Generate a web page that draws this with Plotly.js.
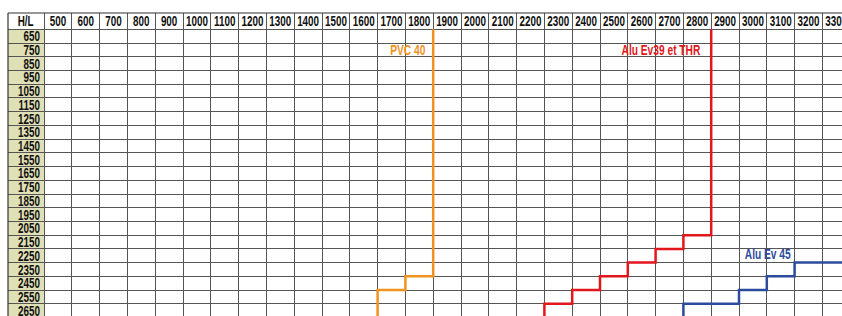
<!DOCTYPE html>
<html>
<head>
<meta charset="utf-8">
<script src="https://cdn.plot.ly/plotly-3.0.1.min.js"></script>
<style>
html,body{margin:0;padding:0;background:#fff;overflow:hidden;}
#chart{width:842px;height:316px;}
</style>
</head>
<body>
<div id="chart"></div>
<script>
// Column widths L (header) and row heights H (left column)
const widths = [500,600,700,800,900,1000,1100,1200,1300,1400,1500,1600,1700,1800,1900,2000,2100,2200,2300,2400,2500,2600,2700,2800,2900,3000,3100,3200,3300];
const heights = [650,750,850,950,1050,1150,1250,1350,1450,1550,1650,1750,1850,1950,2050,2150,2250,2350,2450,2550,2650];

// Step limits (width limit L, height H where each step starts)
const pvcL = [1850,1750,1650,1650];
const pvcH = [600,2400,2500,2700];
const aluEv39L = [2850,2750,2650,2550,2450,2350,2250,2250];
const aluEv39H = [600,2100,2200,2300,2400,2500,2600,2700];
const aluEv45L = [3400,3150,3050,2950,2750];
const aluEv45H = [2300,2400,2500,2600,2700];

const seriesNames = ['PVC 40','Alu Ev39 et THR','Alu Ev 45'];
const seriesColors = ['#f0921f','#e2161d','#2c4b9c'];

const FONT = '"Liberation Sans", Arial, sans-serif';
const SQUEEZE = 0.68;

const xRange = [320.5, 3320.5];
const yRange = [2689, 481];

const xBounds = widths.map(v => v - 50).concat([widths[widths.length-1] + 50]);
const yBounds = heights.map(v => v - 50).concat([heights[heights.length-1] + 50]);

const traces = [
  {x: pvcL, y: pvcH, mode: 'lines', line: {color: seriesColors[0], width: 2.5, shape: 'vh'}, name: seriesNames[0], hoverinfo: 'skip'},
  {x: aluEv39L, y: aluEv39H, mode: 'lines', line: {color: seriesColors[1], width: 2.5, shape: 'vh'}, name: seriesNames[1], hoverinfo: 'skip'},
  {x: aluEv45L, y: aluEv45H, mode: 'lines', line: {color: seriesColors[2], width: 2.5, shape: 'hv'}, name: seriesNames[2], hoverinfo: 'skip'}
];

const xPos = (yRange[0] - yBounds[0]) / (yRange[0] - yRange[1]);
const yPos = (xBounds[0] - xRange[0]) / (xRange[1] - xRange[0]);

const tickFont = {family: FONT, size: 14.5, color: '#111', weight: 'bold'};

const layout = {
  width: 842, height: 316,
  margin: {l: 8, r: 0, t: 13, b: 0, pad: 0},
  paper_bgcolor: '#ffffff',
  plot_bgcolor: '#ffffff',
  showlegend: false,
  xaxis: {
    range: xRange, side: 'top', anchor: 'free', position: xPos,
    tickmode: 'array', tickvals: widths, ticktext: widths.map(String),
    tickangle: 0, ticks: '', showgrid: false, zeroline: false, showline: false,
    automargin: false, fixedrange: true, ticklabeloverflow: 'allow',
    tickfont: tickFont,
    minor: {tickmode: 'array', tickvals: xBounds, showgrid: true, gridcolor: '#555', gridwidth: 1, ticks: ''}
  },
  yaxis: {
    range: yRange, anchor: 'free', position: yPos,
    tickmode: 'array', tickvals: heights, ticktext: heights.map(String),
    ticks: '', showgrid: false, zeroline: false, showline: false,
    automargin: false, fixedrange: true, ticklabelstandoff: 4, ticklabeloverflow: 'allow',
    tickfont: tickFont,
    minor: {tickmode: 'array', tickvals: yBounds, showgrid: true, gridcolor: '#555', gridwidth: 1, ticks: ''}
  },
  shapes: [
    {type: 'rect', xref: 'x', yref: 'y', x0: xRange[0], x1: xBounds[0], y0: yBounds[0], y1: yRange[0], fillcolor: '#e0e0b6', line: {width: 0}, layer: 'below'},
    {type: 'line', xref: 'paper', yref: 'paper', x0: 0, x1: 1, y0: 1, y1: 1, line: {color: '#333', width: 1.2}},
    {type: 'line', xref: 'paper', yref: 'paper', x0: 0, x1: 0, y0: 0, y1: 1, line: {color: '#333', width: 1.2}}
  ],
  annotations: [
    {text: 'H/L', xref: 'x', yref: 'y', x: (xRange[0] + xBounds[0]) / 2, y: (yRange[1] + yBounds[0]) / 2, showarrow: false, font: tickFont},
    {text: seriesNames[0], xref: 'x', yref: 'y', x: 1761, y: 745, showarrow: false, font: {family: FONT, size: 15, color: seriesColors[0], weight: 'bold'}},
    {text: seriesNames[1], xref: 'x', yref: 'y', x: 2669, y: 745, showarrow: false, font: {family: FONT, size: 15, color: seriesColors[1], weight: 'bold'}},
    {text: seriesNames[2], xref: 'x', yref: 'y', x: 3056, y: 2232, showarrow: false, font: {family: FONT, size: 15, color: seriesColors[2], weight: 'bold'}}
  ]
};

Plotly.newPlot('chart', traces, layout, {staticPlot: true, displayModeBar: false}).then(function (gd) {
  // condensed lettering, as in the original printed table
  gd.querySelectorAll('.xtick text, .ytick text, .annotation-text').forEach(function (t) {
    const w = t.getComputedTextLength();
    if (w > 0) {
      t.setAttribute('textLength', (w * SQUEEZE).toFixed(2));
      t.setAttribute('lengthAdjust', 'spacingAndGlyphs');
    }
  });
});
</script>
</body>
</html>
